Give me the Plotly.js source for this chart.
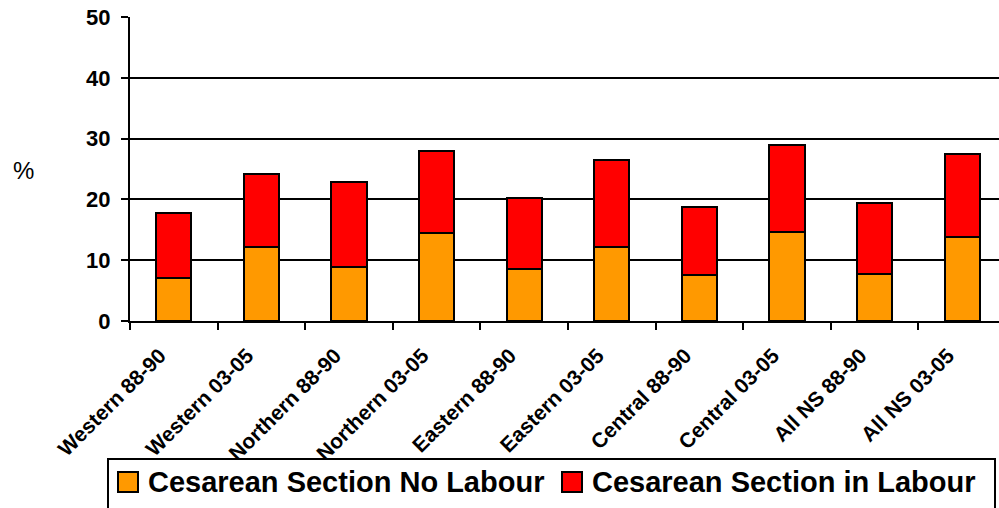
<!DOCTYPE html>
<html>
<head>
<meta charset="utf-8">
<script src="https://cdn.plot.ly/plotly-3.0.1.min.js"></script>
<style>html,body{margin:0;padding:0;background:#fff;}#chart{width:999px;height:508px;}</style>
</head>
<body>
<div id="chart"></div>
<script>
const categories = ["Western 88-90","Western 03-05","Northern 88-90","Northern 03-05","Eastern 88-90","Eastern 03-05","Central 88-90","Central 03-05","All NS 88-90","All NS 03-05"];
const noLabour = [7.0, 12.1, 8.9, 14.4, 8.6, 12.2, 7.5, 14.7, 7.8, 13.8];
const inLabour = [10.8, 12.0, 14.0, 13.6, 11.6, 14.2, 11.2, 14.2, 11.6, 13.6];
const seriesNames = ["Cesarean Section No Labour", "Cesarean Section in Labour"];
const seriesColors = ["#FF9900", "#FF0000"];
const yTicks = [0, 10, 20, 30, 40, 50];

const FONT = "Liberation Sans, Arial, sans-serif";
const L = 130, R = 999, T = 17, B = 321;
const px = v => (v - L) / (R - L);
const py = v => (B - v) / (B - T);

const traces = seriesNames.map((n, i) => ({
  type: "bar", name: n, x: categories, y: i === 0 ? noLabour : inLabour, width: 0.4,
  marker: {color: seriesColors[i], line: {color: "#000", width: 2}}
}));

const shapes = [
  {type: "rect", xref: "paper", yref: "paper", x0: px(108), x1: px(995), y0: py(459), y1: py(520),
   line: {color: "#000", width: 2}, fillcolor: "#fff", layer: "above"}
];
const annotations = [
  {text: "%", xref: "paper", yref: "paper", x: px(23), y: py(170), xanchor: "center", yanchor: "middle",
   showarrow: false, font: {family: FONT, size: 24, color: "#000"}}
];
const symX = [118, 562], txtX = [146, 590];
seriesNames.forEach((n, i) => {
  shapes.push({type: "rect", xref: "paper", yref: "paper", x0: px(symX[i]), x1: px(symX[i] + 20),
    y0: py(472), y1: py(492), line: {color: "#000", width: 2}, fillcolor: seriesColors[i], layer: "above"});
  annotations.push({text: n, xref: "paper", yref: "paper", x: px(txtX[i]), y: py(482),
    xanchor: "left", yanchor: "middle", showarrow: false,
    font: {family: FONT, size: 29, color: "#000", weight: "bold"}});
});

const layout = {
  width: 999, height: 508,
  barmode: "stack",
  paper_bgcolor: "#fff", plot_bgcolor: "#fff",
  margin: {l: L, r: 999 - R, t: T, b: 508 - B, autoexpand: false},
  font: {family: FONT, color: "#000"},
  showlegend: false,
  xaxis: {
    type: "category", categoryorder: "array", categoryarray: categories,
    range: [-0.5, 9.42], automargin: false,
    tickangle: -45, tickfont: {family: FONT, size: 21, color: "#000", weight: "bold"},
    ticklabelstandoff: 12, ticklabelshift: -14,
    ticks: "outside", tickson: "boundaries", ticklen: 7, tickwidth: 2, tickcolor: "#000",
    showline: true, linecolor: "#000", linewidth: 2,
    showgrid: false, zeroline: false, fixedrange: true
  },
  yaxis: {
    range: [0, 50], tickvals: yTicks, ticktext: yTicks.map(v => String(v) + "\u00a0"), automargin: false,
    tickfont: {family: FONT, size: 22, color: "#000", weight: "bold"},
    ticks: "outside", ticklen: 7, tickwidth: 2, tickcolor: "#000",
    showline: true, linecolor: "#000", linewidth: 2,
    showgrid: true, gridcolor: "#000", gridwidth: 2,
    zeroline: false, fixedrange: true
  },
  shapes: shapes,
  annotations: annotations
};

Plotly.newPlot("chart", traces, layout, {displayModeBar: false, staticPlot: true});
</script>
</body>
</html>
